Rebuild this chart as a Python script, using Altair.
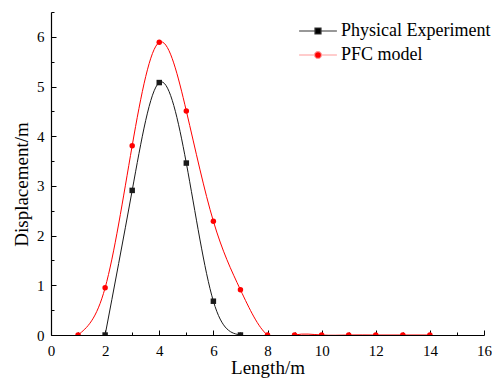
import altair as alt
import pandas as pd

# ---- data ----
series_names = ["Physical Experiment", "PFC model"]
exp_x = [2, 3, 4, 5, 6, 7]
exp_y = [0.0, 2.91, 5.08, 3.46, 0.68, 0.0]
pfc_x = [1, 2, 3, 4, 5, 6, 7, 8, 9, 10, 11, 12, 13, 14]
pfc_y = [0.0, 0.95, 3.81, 5.89, 4.51, 2.29, 0.91, 0.0, 0.0, 0.0, 0.0, 0.0, 0.0, 0.0]

x_major = [0, 2, 4, 6, 8, 10, 12, 14, 16]
x_minor = [1, 3, 5, 7, 9, 11, 13, 15]
y_major = [0, 1, 2, 3, 4, 5, 6]
y_minor = [0.5, 1.5, 2.5, 3.5, 4.5, 5.5, 6.5]

df = pd.concat([
    pd.DataFrame({"x": exp_x, "y": exp_y, "series": series_names[0], "order": 0}),
    pd.DataFrame({"x": pfc_x, "y": pfc_y, "series": series_names[1], "order": 1}),
], ignore_index=True)

FONT = "Liberation Serif"
xscale = alt.Scale(domain=[0, 16], nice=False, zero=False)
yscale = alt.Scale(domain=[0, 6.5], nice=False, zero=False)
color_scale = alt.Scale(domain=series_names, range=["#1a1a1a", "#ff0000"])

sq_path = "M-6.3,0H-1M1,0H6.3M-1,-1H1V1H-1Z"
circ_path = ("M-6.3,0H-1.15M1.15,0H6.3M-1.15,0A1.15,1.15,0,1,1,1.15,0"
             "A1.15,1.15,0,1,1,-1.15,0Z")

x_major_axis = alt.Axis(values=x_major, title="Length/m", orient="bottom",
                        tickSize=alt.ExprRef(expr="-5"), labelPadding=13,
                        grid=False, domainColor="black", domainWidth=1.2,
                        tickColor="black", tickWidth=1, labelFont=FONT,
                        labelFontSize=15, labelColor="black", labelFlush=False,
                        titleFont=FONT, titleFontSize=19, titleFontWeight="normal",
                        titleColor="black", titleY=38, titleBaseline="alphabetic")
y_major_axis = alt.Axis(values=y_major, title="Displacement/m", orient="left",
                        tickSize=alt.ExprRef(expr="-5"), labelPadding=12,
                        grid=False, domainColor="black", domainWidth=1.2,
                        tickColor="black", tickWidth=1, labelFont=FONT,
                        labelFontSize=15, labelColor="black", labelFlush=False,
                        titleFont=FONT, titleFontSize=19, titleFontWeight="normal",
                        titleColor="black", titleX=-24, titleY=172,
                        titleBaseline="alphabetic", titleAngle=-90)
x_minor_axis = alt.Axis(values=x_minor, title=None, orient="bottom", labels=False,
                        domain=False, grid=False, tickSize=alt.ExprRef(expr="-3"),
                        tickColor="black", tickWidth=1)
y_minor_axis = alt.Axis(values=y_minor, title=None, orient="left", labels=False,
                        domain=False, grid=False, tickSize=alt.ExprRef(expr="-3"),
                        tickColor="black", tickWidth=1)

lines = alt.Chart(df).mark_line(interpolate="natural", strokeWidth=1, clip=True).encode(
    x=alt.X("x:Q", scale=xscale, axis=x_major_axis),
    y=alt.Y("y:Q", scale=yscale, axis=y_major_axis),
    color=alt.Color("series:N", scale=color_scale, legend=None),
    detail="series:N",
)

points = alt.Chart(df).mark_point(filled=True, size=30, opacity=1, clip=True).encode(
    x=alt.X("x:Q", scale=xscale, axis=x_minor_axis),
    y=alt.Y("y:Q", scale=yscale, axis=y_minor_axis),
    color=alt.Color("series:N", scale=color_scale, legend=None),
    shape=alt.Shape("series:N", scale=alt.Scale(domain=series_names, range=["square", "circle"]), legend=None),
    order="order:Q",
)

legend = alt.Legend(title=None, orient="none", legendX=258, legendY=10,
                    labelFont=FONT, labelFontSize=18, labelColor="black",
                    labelOffset=14, rowPadding=6, symbolSize=36,
                    symbolStrokeWidth=1.2, padding=0, labelLimit=400)

legend_layer = alt.Chart(df).transform_filter("false").mark_point(
    filled=True, size=36, strokeWidth=1.2, opacity=1).encode(
    x=alt.X("x:Q", scale=xscale, axis=None),
    y=alt.Y("y:Q", scale=yscale, axis=None),
    fill=alt.Fill("series:N", scale=alt.Scale(domain=series_names, range=["#000000", "#ff0000"]), legend=legend),
    stroke=alt.Stroke("series:N", scale=alt.Scale(domain=series_names, range=["#333333", "#ff9a9a"]), legend=legend),
    shape=alt.Shape("series:N", scale=alt.Scale(domain=series_names, range=[sq_path, circ_path]), legend=legend),
)

chart = alt.layer(lines, points, legend_layer).resolve_scale(
    shape="independent", fill="independent", stroke="independent"
).resolve_axis(x="independent", y="independent").properties(
    width=433, height=323,
    autosize=alt.AutoSizeParams(type="none"),
    padding={"left": 43, "top": 4, "right": 8, "bottom": 44},
).configure(font=FONT).configure_axis(
    labelFont=FONT, titleFont=FONT
).configure_legend(labelFont=FONT).configure_view(stroke=None)

chart.save("out.html", embed_options={"renderer": "svg", "actions": False})
